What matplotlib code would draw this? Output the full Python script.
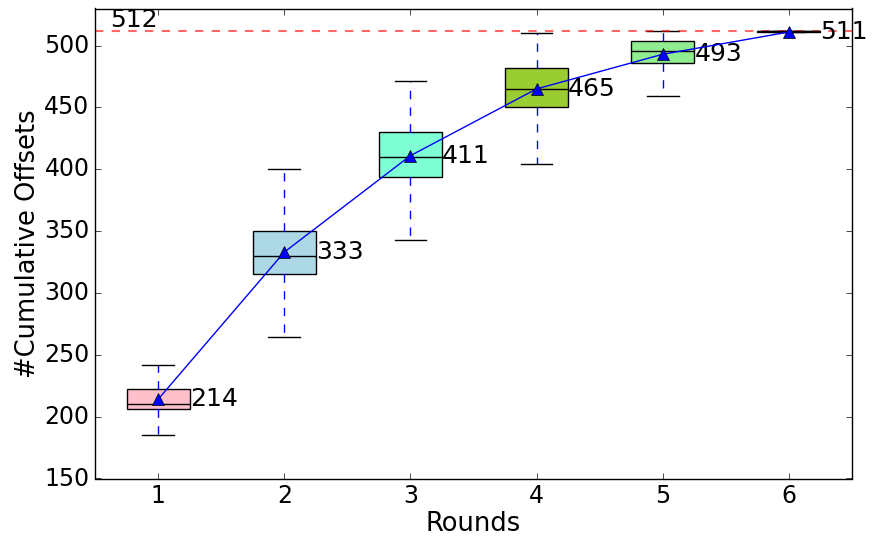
import matplotlib
matplotlib.use("Agg")
import matplotlib.pyplot as plt

plt.style.use("classic")
plt.rcParams['font.family'] = ['DejaVu Sans']

rounds = [1, 2, 3, 4, 5, 6]
whisker_low = [185, 264, 343, 404, 459, 511]
q1 = [206, 315, 394, 450, 486, 511]
median = [210, 330, 410, 465, 496, 512]
q3 = [222, 350, 430, 482, 504, 512]
whisker_high = [242, 400, 471, 510, 512, 512]
means = [214, 333, 411, 465, 493, 511]
box_colors = ['pink', 'lightblue', 'aquamarine', 'yellowgreen', 'lightgreen', 'darkred']
limit = 512

fig = plt.figure(figsize=(8.72, 5.4), dpi=100)
ax = fig.add_axes([95/872, 1-478.5/540, (852-95)/872, (478.5-8.5)/540])

stats = []
for i in range(len(rounds)):
    stats.append(dict(whislo=whisker_low[i], q1=q1[i], med=median[i], q3=q3[i],
                      whishi=whisker_high[i], fliers=[], label=str(rounds[i])))

bp = ax.bxp(stats, positions=rounds, widths=0.5, patch_artist=True,
            showfliers=False,
            boxprops=dict(edgecolor='black', linewidth=1),
            medianprops=dict(color='black', linewidth=1),
            whiskerprops=dict(color='blue', linestyle='--', linewidth=1),
            capprops=dict(color='black', linewidth=1))
for patch, c in zip(bp['boxes'], box_colors):
    patch.set_facecolor(c)

ax.plot(rounds, means, color='blue', linewidth=1, marker='^', markersize=9,
        markerfacecolor='blue', markeredgecolor='black', zorder=5)
for x, m in zip(rounds, means):
    ax.text(x + 0.25, m, str(m), fontsize=18, ha='left', va='center')

ax.axhline(limit, color='red', linestyle='--', alpha=0.6, linewidth=1.5)
ax.text(0.62, limit - 1, str(limit), fontsize=18, ha='left', va='bottom')

ax.set_xlim(0.5, 6.5)
ax.set_ylim(150, 530)
ax.set_yticks([150, 200, 250, 300, 350, 400, 450, 500])
ax.set_xticks(rounds)
ax.set_xticklabels([str(r) for r in rounds])
ax.tick_params(labelsize=17)
ax.set_xlabel('Rounds', fontsize=18.5, labelpad=2)
ax.set_ylabel('#Cumulative Offsets', fontsize=18.5, labelpad=2)

fig.savefig('out.png', dpi=100)
